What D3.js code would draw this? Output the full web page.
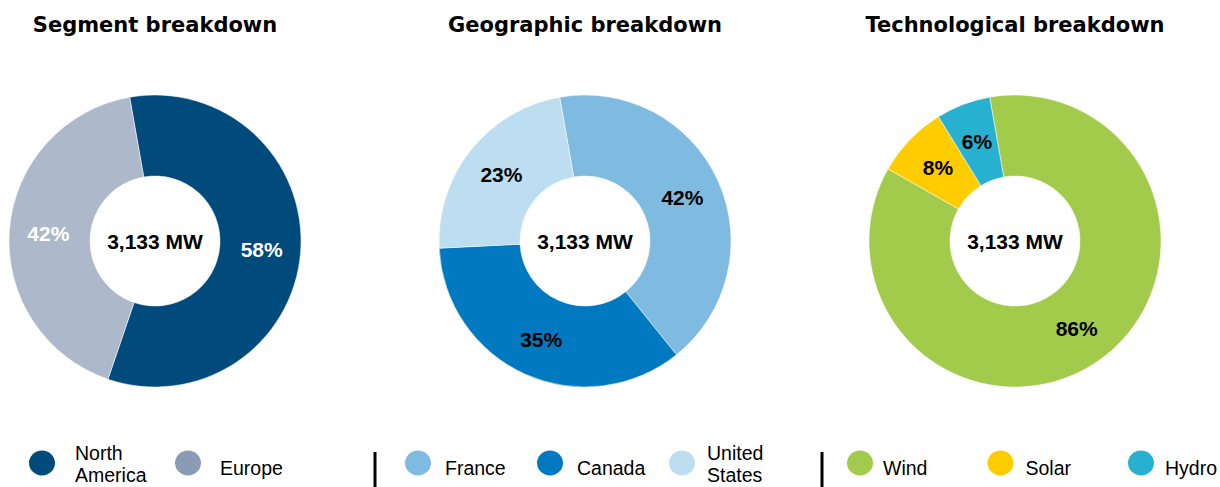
<!DOCTYPE html>
<html>
<head>
<meta charset="utf-8">
<script src="https://cdn.jsdelivr.net/npm/d3@7"></script>
<style>
  body { margin: 0; background: #fff; }
  svg { display: block; }
  .title { font-family: "DejaVu Sans", sans-serif; font-weight: bold; font-size: 21px; fill: #000; text-anchor: middle; }
  .center { font-family: "Liberation Sans", Arial, sans-serif; font-weight: bold; font-size: 21px; text-anchor: middle; }
  .pct { font-family: "Liberation Sans", Arial, sans-serif; font-weight: bold; font-size: 21px; text-anchor: middle; }
  .leg { font-family: "Liberation Sans", Arial, sans-serif; font-size: 19.5px; fill: #000; }
</style>
</head>
<body>
<svg id="chart" width="1220" height="487"></svg>
<script>
var svg = d3.select("#chart");

// data
var totalLabel = "3,133 MW";

var segmentNames  = ["North America", "Europe"];
var segmentValues = [58, 42];
var segmentColors = ["#004a7c", "#adb9ca"];
var segmentLegend = ["#004a7c", "#8a9bb5"];

var geoNames  = ["France", "Canada", "United States"];
var geoValues = [42, 35, 23];
var geoColors = ["#7fbae0", "#0079c1", "#bddef0"];

var techNames  = ["Wind", "Solar", "Hydro"];
var techValues = [86, 8, 6];
var techColors = ["#a2cb4b", "#ffcc00", "#27b0d0"];

var panels = [
  {title: "Segment breakdown", names: segmentNames, values: segmentValues, colors: segmentColors,
   legendColors: segmentLegend, labelColor: "#fff", cx: 155, lx0: 42, lx1: 188, gap: [33, 32], sep: null},
  {title: "Geographic breakdown", names: geoNames, values: geoValues, colors: geoColors,
   legendColors: geoColors, labelColor: "#000", cx: 585, lx0: 418, lx1: 682, gap: [27, 27, 25], sep: 375},
  {title: "Technological breakdown", names: techNames, values: techValues, colors: techColors,
   legendColors: techColors, labelColor: "#000", cx: 1015, lx0: 860, lx1: 1141, gap: [23, 25, 24], sep: 822}
];

var cy = 241, outerR = 146, innerR = 65, labelR = 107;
var startA = -10 * Math.PI / 180;

var pie = d3.pie().sort(null).value(function(d) { return d; })
  .startAngle(startA).endAngle(startA + 2 * Math.PI);
var arc = d3.arc().innerRadius(innerR).outerRadius(outerR);
var labelArc = d3.arc().innerRadius(labelR).outerRadius(labelR);

panels.forEach(function(p) {
  svg.append("text")
    .attr("class", "title")
    .attr("x", p.cx)
    .attr("y", 32)
    .text(p.title);

  var g = svg.append("g").attr("transform", `translate(${p.cx}, ${cy})`);
  var arcs = pie(p.values);

  g.selectAll("path")
    .data(arcs)
    .enter().append("path")
    .attr("d", arc)
    .attr("fill", function(d, i) { return p.colors[i]; })
    .attr("stroke", "#fff")
    .attr("stroke-width", 0.5);

  g.selectAll("text.pct")
    .data(arcs)
    .enter().append("text")
    .attr("class", "pct")
    .attr("x", function(d) { return labelArc.centroid(d)[0]; })
    .attr("y", function(d) { return labelArc.centroid(d)[1] + 8; })
    .style("fill", p.labelColor)
    .text(function(d) { return d.data + "%"; });

  g.append("text")
    .attr("class", "center")
    .attr("x", 0)
    .attr("y", 8)
    .text(totalLabel);

  // legend
  var lx = d3.scalePoint().domain(p.names).range([p.lx0, p.lx1]);
  var ly = 463;
  p.names.forEach(function(n, i) {
    svg.append("ellipse")
      .attr("cx", lx(n))
      .attr("cy", ly)
      .attr("rx", 13)
      .attr("ry", 12.5)
      .attr("fill", p.legendColors[i]);
    var words = n.split(" ");
    var t = svg.append("text")
      .attr("class", "leg")
      .attr("y", words.length > 1 ? ly - 3 : ly + 12);
    words.forEach(function(w, j) {
      t.append("tspan")
        .attr("x", lx(n) + p.gap[i])
        .attr("dy", j == 0 ? 0 : 22)
        .text(w);
    });
  });

  if (p.sep != null) {
    svg.append("line")
      .attr("x1", p.sep).attr("x2", p.sep)
      .attr("y1", 452).attr("y2", 487)
      .style("stroke", "#000")
      .style("stroke-width", 3);
  }
});
</script>
</body>
</html>
